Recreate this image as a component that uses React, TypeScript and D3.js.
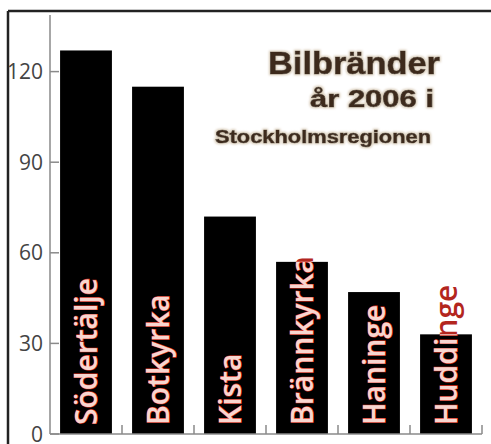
import React from "react";
import * as d3 from "d3";

const categories = ["Södertälje", "Botkyrka", "Kista", "Brännkyrka", "Haninge", "Huddinge"];
const values = [127, 115, 72, 57, 47, 33];
const yTicks = [0, 30, 60, 90, 120];
const titleLines = ["Bilbränder", "år 2006 i", "Stockholmsregionen"];

const W = 491;
const H = 444;

export default function App() {
  const x = d3.scaleBand<string>().domain(categories).range([50, 482]).paddingInner(0.28).paddingOuter(0.14);
  const y = d3.scaleLinear().domain([0, 120]).range([434, 71.6]);
  const step = x.step();
  const labelFont = "'Open Sans', 'Noto Sans', sans-serif";
  const titleFont = "'Liberation Sans', Arial, sans-serif";

  return (
    <svg width={W} height={H} style={{ position: "absolute", left: 0, top: 0, display: "block", background: "#fff" }}>
      <defs>
        <filter id="glow" x="-10%" y="-30%" width="120%" height="160%">
          <feMorphology in="SourceAlpha" operator="dilate" radius="1" result="d" />
          <feGaussianBlur in="d" stdDeviation="0.8" result="b" />
          <feFlood floodColor="#d9ccb8" result="c" />
          <feComposite in="c" in2="b" operator="in" result="g" />
          <feMerge>
            <feMergeNode in="g" />
            <feMergeNode in="SourceGraphic" />
          </feMerge>
        </filter>
        {categories.map((c, i) => (
          <clipPath id={`clip${i}`} key={c}>
            <rect x={x(c)} y={y(values[i])} width={x.bandwidth()} height={y(0) - y(values[i])} />
          </clipPath>
        ))}
      </defs>
      {/* frame */}
      <line x1={8} y1={11} x2={W} y2={11} stroke="#222" strokeWidth={2.5} />
      <line x1={8} y1={11} x2={8} y2={H} stroke="#222" strokeWidth={2.5} />

      {/* bars */}
      {categories.map((c, i) => (
        <rect key={c} x={x(c)} y={y(values[i])} width={x.bandwidth()} height={y(0) - y(values[i])} fill="#000" />
      ))}

      {/* axes */}
      <line x1={50} y1={15} x2={50} y2={434} stroke="#8a8a8a" strokeWidth={1.5} />
      <line x1={50} y1={434} x2={482} y2={434} stroke="#8a8a8a" strokeWidth={1.5} />
      {yTicks.map((t) => (
        <g key={t}>
          <line x1={50} x2={59} y1={y(t)} y2={y(t)} stroke="#8a8a8a" strokeWidth={1.5} />
          <text x={43} y={y(t)} dy="0.36em" textAnchor="end" fontFamily={labelFont} fontSize={21} fill="#444">
            {t}
          </text>
        </g>
      ))}
      {categories.map((c) => (
        <line key={c} x1={(x(c) as number) - 0.14 * step + step} x2={(x(c) as number) - 0.14 * step + step} y1={434} y2={425} stroke="#8a8a8a" strokeWidth={1.5} />
      ))}

      {/* bar labels */}
      {categories.map((c, i) => {
        const cx = (x(c) as number) + x.bandwidth() / 2 + 11;
        const tr = `translate(${cx},425) rotate(-90)`;
        return (
          <g key={c}>
            <text transform={tr} fontFamily={labelFont} fontWeight={600} fontSize={30} fill="#b3261e">
              {c}
            </text>
            <g clipPath={`url(#clip${i})`}>
              <text transform={tr} fontFamily={labelFont} fontWeight={600} fontSize={30} fill="#f7d6d0" stroke="#d8301f" strokeWidth={1.1} paintOrder="stroke">
                {c}
              </text>
            </g>
          </g>
        );
      })}

      {/* title */}
      <g filter="url(#glow)" fill="#3d2b1f" stroke="#3d2b1f" strokeWidth={0.6} fontFamily={titleFont} fontWeight="bold" textAnchor="end">
        <text x={440} y={74} fontSize={32} textLength={172} lengthAdjust="spacingAndGlyphs">{titleLines[0]}</text>
        <text x={434} y={107} fontSize={23} textLength={124} lengthAdjust="spacingAndGlyphs">{titleLines[1]}</text>
        <text x={431} y={143} fontSize={18} textLength={216} lengthAdjust="spacingAndGlyphs">{titleLines[2]}</text>
      </g>
    </svg>
  );
}
